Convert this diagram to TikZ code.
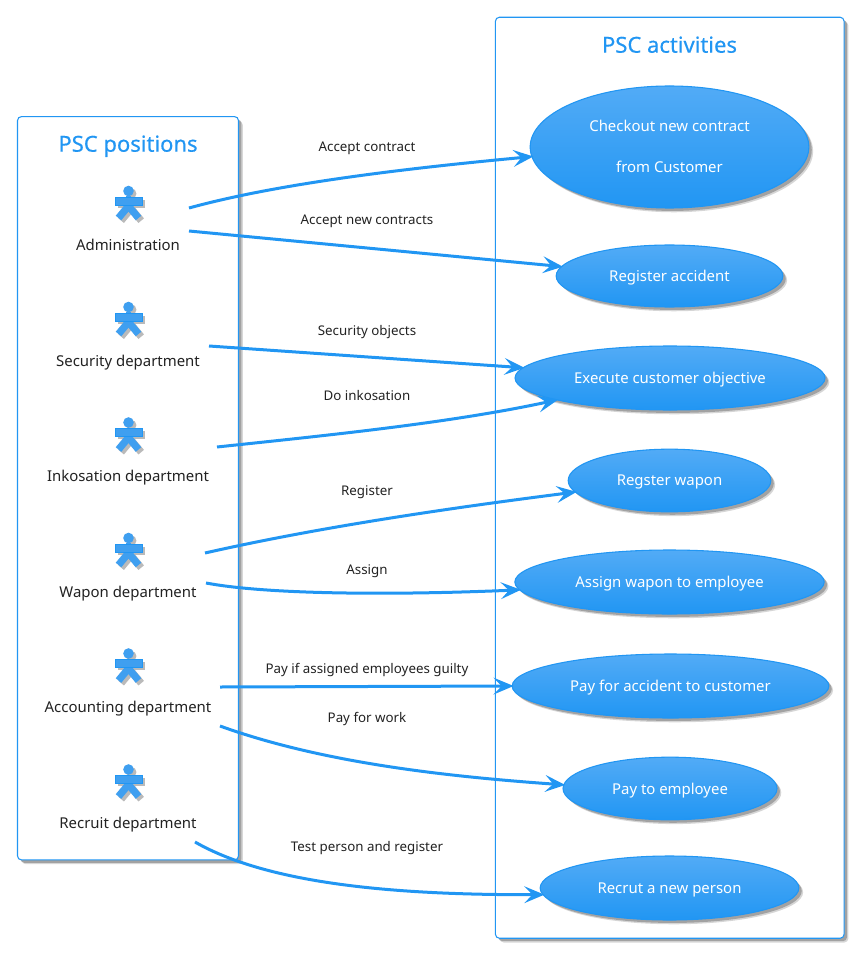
\documentclass[tikz,border=0pt]{standalone}
\usepackage{fontspec}
\usepackage{xcolor}
\setmainfont{Noto Sans}
\newfontfamily\titlefont[FakeBold=0.4]{Noto Sans}
\usetikzlibrary{arrows.meta,shapes.geometric,shadows}
\definecolor{pscblue}{HTML}{2196F3}
\definecolor{psctop}{HTML}{52ABF6}
\definecolor{pscshadow}{HTML}{8C8C8C}
\definecolor{pscactor}{HTML}{3F9FF0}
\definecolor{psctext}{HTML}{222222}
\tikzset{
  pscshade/.style={drop shadow={shadow xshift=3.2pt,shadow yshift=-3.2pt,fill=pscshadow,opacity=0.35},
    drop shadow={shadow xshift=2.2pt,shadow yshift=-2.2pt,fill=pscshadow,opacity=0.7}},
  group/.style={draw=pscblue, line width=0.8pt, rounded corners=3pt, fill=white, pscshade},
  grouptitle/.style={text=pscblue, font=\titlefont\fontsize{16.5}{20}\selectfont, inner sep=0pt, anchor=base},
  usecase/.style={ellipse, draw=pscblue, line width=0.8pt, top color=psctop, bottom color=pscblue, text=white, align=center, inner sep=0pt, text depth=0pt, font=\fontsize{11.2}{14}\selectfont, pscshade},
  actorlabel/.style={text=psctext, inner sep=0pt, anchor=base, font=\fontsize{11.2}{14}\selectfont},
  edgelabel/.style={text=psctext, inner sep=0pt, anchor=base, font=\fontsize{10}{12}\selectfont},
  link/.style={draw=pscblue, line width=2.25pt, shorten >=-1.5pt, -{Stealth[length=15pt,width=12.5pt,inset=6pt]}},
  pics/actor/.style={code={
    \begin{scope}[xshift=2pt,yshift=-2pt,draw=pscshadow!60,fill=pscshadow!60]
      \fill (0,-2) circle (5.3);
      \fill (-13.5,4) rectangle (13.5,12);
      \draw[line width=5.4pt] (-10,25) -- (0,13) -- (10,25);
    \end{scope}
    \fill[pscactor] (0,-2) circle (5.3);
    \draw[pscactor,line width=4pt] (0,3) -- (0,14);
    \fill[pscactor] (-13.5,4) rectangle (13.5,12);
    \draw[pscactor,line width=5.4pt] (-10,25) -- (0,13) -- (10,25);
    \draw[pscblue,line width=0.5pt] (-13.5,4) rectangle (13.5,12);
  }}
}
\begin{document}
\begin{tikzpicture}[x=0.75pt,y=-0.75pt]
\useasboundingbox (0,0) rectangle (860,955);

% boxes
\node[group, minimum width=165.75pt, minimum height=557.5pt] (positions) at (128,488.25) {};
\node[group, minimum width=261.5pt, minimum height=690.75pt] (activities) at (669.75,477.75) {};
\node[grouptitle] (positionstitle) at (128,151.7) {PSC positions};
\node[grouptitle] (activitiestitle) at (669.5,52.7) {PSC activities};

% actors
\pic at (128.5,193) {actor};
\pic at (128.5,309) {actor};
\pic at (128.5,424.5) {actor};
\pic at (128.5,540) {actor};
\pic at (128.5,655.5) {actor};
\pic at (128.5,771.5) {actor};
\node[actorlabel] (administration) at (128,251) {Administration};
\node[actorlabel] (security) at (128,366.5) {Security department};
\node[actorlabel] (inkosation) at (128,481.4) {Inkosation department};
\node[actorlabel] (wapon) at (128,597) {Wapon department};
\node[actorlabel] (accounting) at (128,712.7) {Accounting department};
\node[actorlabel] (recruit) at (128,828.4) {Recruit department};

% use cases
\node[usecase, text depth=1.5pt, minimum width=209pt, minimum height=91.5pt] (checkout) at (669.5,147) {Checkout new contract\\[17pt]from Customer};
\node[usecase, minimum width=170pt, minimum height=46.5pt] (accident) at (669.5,276) {Register accident};
\node[usecase, minimum width=232.5pt, minimum height=48pt] (objective) at (670,378) {Execute customer objective};
\node[usecase, minimum width=152pt, minimum height=47pt] (regwapon) at (669.5,480.5) {Regster wapon};
\node[usecase, minimum width=232pt, minimum height=48pt] (assign) at (669.5,582) {Assign wapon to employee};
\node[usecase, minimum width=237.5pt, minimum height=48pt] (payaccident) at (670.5,686) {Pay for accident to customer};
\node[usecase, minimum width=160.5pt, minimum height=47pt] (payemployee) at (670,788.5) {Pay to employee};
\node[usecase, minimum width=194pt, minimum height=48pt] (recrut) at (669.5,888) {Recrut a new person};

% free ends of the links
\coordinate (admina) at (189,208);
\coordinate (adminb) at (189,231);
\coordinate (securitya) at (209,346);
\coordinate (inkosationa) at (217,447);
\coordinate (wapona) at (205,553);
\coordinate (waponb) at (206,583);
\coordinate (accountinga) at (220,687);
\coordinate (accountingb) at (220,726);
\coordinate (recruita) at (195,842);

\draw[link] (admina) .. controls (280,183) and (410,168) .. (checkout.184.5);
\draw[link] (adminb) -- (accident.175.6);
\draw[link] (securitya) -- (objective.176.9);
\draw[link] (inkosationa) .. controls (330,435) and (450,423) .. (objective.191.9);
\draw[link] (wapona) .. controls (320,527) and (450,508) .. (regwapon.187.2);
\draw[link] (waponb) .. controls (270,595) and (400,595) .. (assign.183);
\draw[link] (accountinga) -- (payaccident.west);
\draw[link] (accountingb) .. controls (320,762) and (440,776) .. (payemployee.178);
\draw[link] (recruita) .. controls (270,885) and (400,895) .. (recrut.183);

% link labels
\node[edgelabel] (la) at (367,152) {Accept contract};
\node[edgelabel] (lb) at (367,225) {Accept new contracts};
\node[edgelabel] (lc) at (367,335.5) {Security objects};
\node[edgelabel] (ld) at (367,400) {Do inkosation};
\node[edgelabel] (le) at (367,495) {Register};
\node[edgelabel] (lf) at (367,574) {Assign};
\node[edgelabel] (lg) at (367,673) {Pay if assigned employees guilty};
\node[edgelabel] (lh) at (367,722) {Pay for work};
\node[edgelabel] (li) at (367,851) {Test person and register};
\end{tikzpicture}
\end{document}
